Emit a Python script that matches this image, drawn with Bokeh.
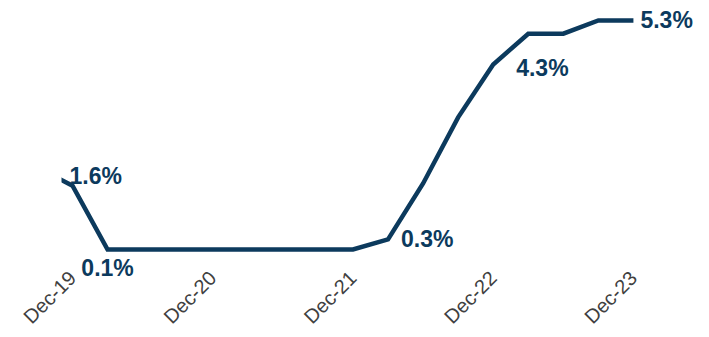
import math
from bokeh.plotting import figure
from bokeh.models import ColumnDataSource, FixedTicker, Range1d, LabelSet
from bokeh.core.properties import value
from bokeh.embed import file_html
from bokeh.resources import INLINE

# Quarterly policy rate (%), Sep-19 .. Dec-23
quarters = ["Sep-19", "Dec-19", "Mar-20", "Jun-20", "Sep-20", "Dec-20", "Mar-21", "Jun-21",
            "Sep-21", "Dec-21", "Mar-22", "Jun-22", "Sep-22", "Dec-22", "Mar-23", "Jun-23",
            "Sep-23", "Dec-23"]
rates = [1.95, 1.55, 0.1, 0.1, 0.1, 0.1, 0.1, 0.1, 0.1, 0.1, 0.33, 1.6, 3.1, 4.3, 5.0, 5.0, 5.3, 5.3]

tick_labels = ["Dec-19", "Dec-20", "Dec-21", "Dec-22", "Dec-23"]

label_quarters = ["Dec-19", "Mar-20", "Mar-22", "Dec-22", "Dec-23"]
label_texts = ["1.6%", "0.1%", "0.3%", "4.3%", "5.3%"]

NAVY = "#0C3A5D"

xs = list(range(len(quarters)))
src = ColumnDataSource(dict(x=xs, y=rates))

p = figure(frame_width=648, frame_height=275, output_backend="svg", toolbar_location=None,
           x_range=Range1d(0.686, 19.17), y_range=Range1d(-0.604, 5.64),
           min_border_left=61, min_border_right=0, min_border_top=5, min_border_bottom=0)
p.outline_line_color = None
p.background_fill_color = "white"
p.border_fill_color = "white"
p.xgrid.visible = False
p.ygrid.visible = False
p.yaxis.visible = False

p.line("x", "y", source=src, line_color=NAVY, line_width=4.5, line_join="miter")

# data labels
idx = [quarters.index(q) for q in label_quarters]
lab = ColumnDataSource(dict(x=[xs[i] for i in idx], y=[rates[i] for i in idx], t=label_texts,
                            xo=[-3, 0, 13, 23, 7], yo=[10, -19, 0, -3, 0],
                            al=["left", "center", "left", "left", "left"]))
labels = LabelSet(x="x", y="y", text="t", source=lab, x_offset="xo", y_offset="yo",
                  text_align="al", text_baseline="middle", text_color=NAVY,
                  text_font=value("Liberation Sans"), text_font_style="bold",
                  text_font_size="23px")
p.add_layout(labels)

tick_pos = [quarters.index(q) for q in tick_labels]
p.xaxis.ticker = FixedTicker(ticks=tick_pos)
p.xaxis.major_label_overrides = {t: l for t, l in zip(tick_pos, tick_labels)}
p.xaxis.major_label_orientation = math.pi / 4
p.xaxis.axis_line_color = None
p.xaxis.major_tick_line_color = None
p.xaxis.minor_tick_line_color = None
p.xaxis.major_tick_out = 0
p.xaxis.major_tick_in = 0
p.xaxis.major_label_text_font = "Liberation Sans"
p.xaxis.major_label_text_font_size = "20px"
p.xaxis.major_label_text_color = "#404040"
p.xaxis.major_label_standoff = -6

open("out.html", "w").write(file_html(p, INLINE))
